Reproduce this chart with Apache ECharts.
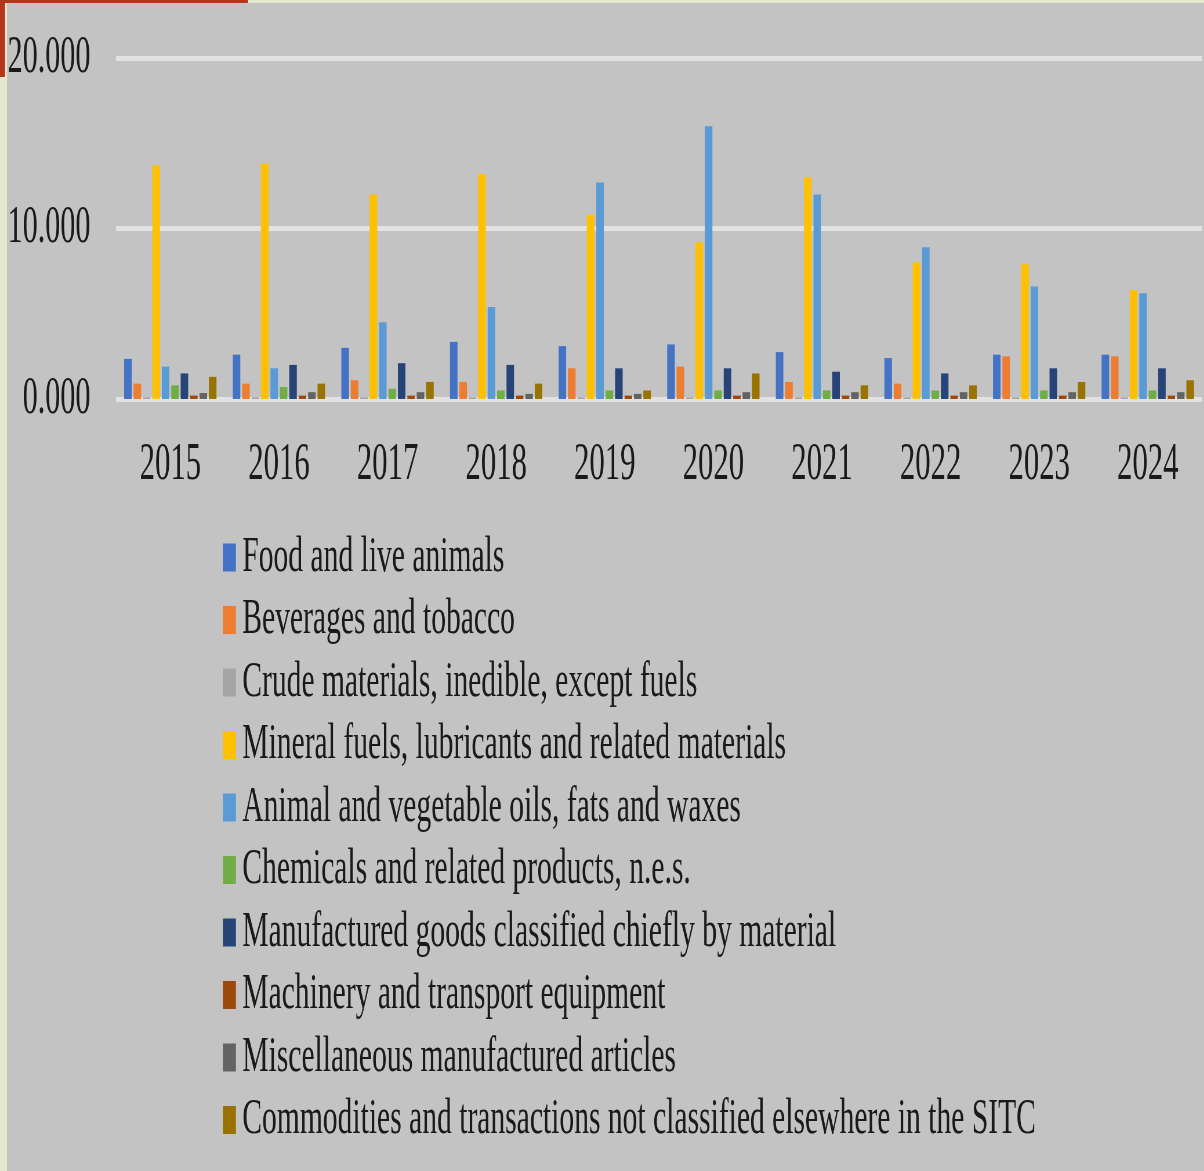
<!DOCTYPE html>
<html>
<head>
<meta charset="utf-8">
<script src="https://cdn.jsdelivr.net/npm/echarts@6/dist/echarts.min.js"></script>
<style>
html,body{margin:0;padding:0;width:1204px;height:1171px;overflow:hidden;background:#c3c3c3;}
#wrap{width:1204px;height:1171px;overflow:hidden;position:relative;}
#chart{width:2076px;height:1171px;transform:scaleX(0.58);transform-origin:0 0;position:absolute;left:0;top:0;}
</style>
</head>
<body>
<div id="wrap"><div id="chart"></div></div>
<script>
const years = ['2015','2016','2017','2018','2019','2020','2021','2022','2023','2024'];
const seriesNames = [
  'Food and live animals',
  'Beverages and tobacco',
  'Crude materials, inedible, except fuels',
  'Mineral fuels, lubricants and related materials',
  'Animal and vegetable oils, fats and waxes',
  'Chemicals and related products, n.e.s.',
  'Manufactured goods classified chiefly by material',
  'Machinery and transport equipment',
  'Miscellaneous manufactured articles',
  'Commodities and transactions not classified elsewhere in the SITC'
];
const food         = [2.35, 2.6, 3.0, 3.35, 3.1, 3.2, 2.75, 2.4, 2.6, 2.6];
const beverages    = [0.9, 0.9, 1.1, 1.0, 1.8, 1.9, 1.0, 0.9, 2.5, 2.5];
const crude        = [0.1, 0.1, 0.1, 0.1, 0.1, 0.1, 0.1, 0.1, 0.1, 0.1];
const mineral      = [13.7, 13.8, 12.0, 13.2, 10.8, 9.2, 13.0, 8.0, 7.9, 6.4];
const animalOils   = [1.9, 1.8, 4.5, 5.4, 12.7, 16.0, 12.0, 8.9, 6.6, 6.2];
const chemicals    = [0.8, 0.7, 0.6, 0.5, 0.5, 0.5, 0.5, 0.5, 0.5, 0.5];
const manufactured = [1.5, 2.0, 2.1, 2.0, 1.8, 1.8, 1.6, 1.5, 1.8, 1.8];
const machinery    = [0.2, 0.2, 0.2, 0.2, 0.2, 0.2, 0.2, 0.2, 0.2, 0.2];
const misc         = [0.35, 0.4, 0.4, 0.3, 0.3, 0.4, 0.4, 0.4, 0.4, 0.4];
const commodities  = [1.3, 0.9, 1.0, 0.9, 0.5, 1.5, 0.8, 0.8, 1.0, 1.1];
const allData = [food, beverages, crude, mineral, animalOils, chemicals, manufactured, machinery, misc, commodities];
const colors = ['#4472C4','#ED7D31','#A5A5A5','#FFC000','#5B9BD5','#70AD47','#264478','#9E480E','#636363','#997300'];
const yTicks = [0, 10, 20];

const S = 0.58;
const chart = echarts.init(document.getElementById('chart'));
const fontFam = '"Liberation Serif", "Times New Roman", serif';
chart.setOption({
  backgroundColor: '#c3c3c3',
  animation: false,
  color: colors,
  grid: { left: 116 / S, right: 2 / S, top: 58, bottom: 1171 - 399 },
  xAxis: {
    type: 'category',
    data: years,
    axisLine: { show: false },
    axisTick: { show: false },
    axisLabel: { color: '#1a1a1a', fontFamily: fontFam, fontSize: 53, margin: 40 }
  },
  yAxis: {
    type: 'value',
    min: yTicks[0], max: yTicks[2], interval: 10,
    axisLine: { show: false },
    axisTick: { show: false },
    splitLine: { lineStyle: { color: '#e2e2e2', width: 5 } },
    axisLabel: { color: '#1a1a1a', fontFamily: fontFam, fontSize: 52, margin: 44,
      formatter: v => v.toFixed(3) }
  },
  legend: {
    orient: 'vertical',
    left: 220 / S,
    top: 527,
    itemWidth: 13 / S,
    itemHeight: 28,
    itemGap: 11.5,
    icon: 'rect',
    textStyle: { color: '#1a1a1a', fontFamily: fontFam, fontSize: 51, lineHeight: 50, padding: [0,0,0,6] },
    data: seriesNames
  },
  graphic: [
    { type: 'rect', shape: { x: 0, y: 0, width: 7 / S, height: 1171 }, style: { fill: '#e2e8cc' }, silent: true },
    { type: 'rect', shape: { x: 0, y: 0, width: 2076, height: 3 }, style: { fill: '#e4e9d0' }, silent: true },
    { type: 'rect', shape: { x: 0, y: 0, width: 248 / S, height: 3 }, style: { fill: '#b5341a' }, silent: true },
    { type: 'rect', shape: { x: 0, y: 0, width: 5 / S, height: 77 }, style: { fill: '#b5341a' }, silent: true }
  ],
  series: seriesNames.map((n, i) => ({
    name: n,
    type: 'bar',
    data: allData[i],
    barGap: '25%',
    barCategoryGap: '15%'
  }))
});
</script>
</body>
</html>
